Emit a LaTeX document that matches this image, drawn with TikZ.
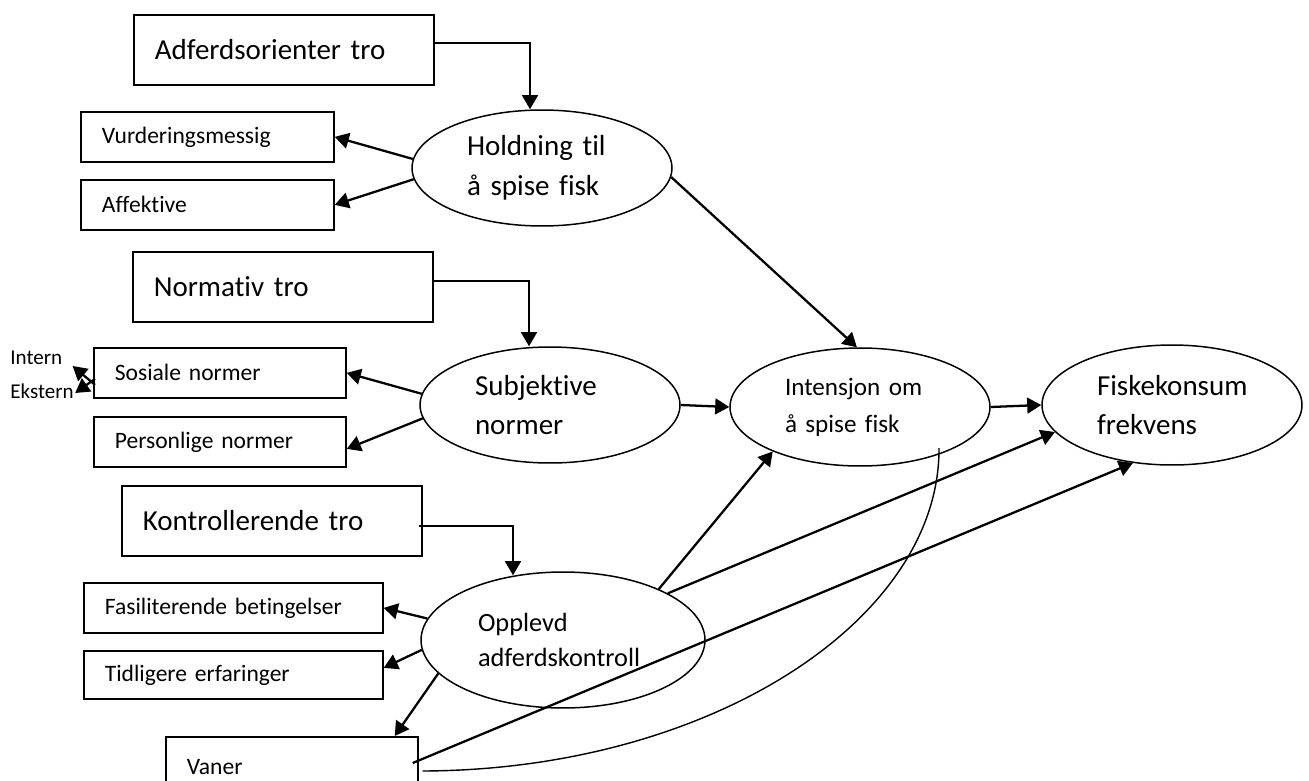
\documentclass[tikz,border=0pt]{standalone}
\usepackage{fontspec}
\setmainfont{Carlito}[Ligatures={NoCommon,NoRequired,NoContextual}]
\usepackage{tikz}
\usetikzlibrary{arrows.meta,calc,shapes.geometric}

\begin{document}
\begin{tikzpicture}[x=0.02cm,y=-0.02cm,
   pil/.style={-{Triangle[length=8pt,width=9pt]},line width=1.3pt},
   stor boks/.style={draw,line width=1pt,anchor=north west,minimum height=1.4cm,
      inner xsep=0.42cm,text width=5.16cm,align=left,font=\fontsize{16.5}{20}\selectfont},
   liten boks/.style={draw,line width=1pt,anchor=north west,minimum height=1cm,
      inner xsep=0.42cm,align=left,font=\fontsize{13.4}{16}\selectfont},
   begrep/.style={ellipse,draw,line width=0.85pt,inner sep=0pt,text width=3cm,align=left,
      minimum width=5.2cm,minimum height=2.32cm,font=\fontsize{16.5}{22.7}\selectfont},
   merknad/.style={anchor=west,inner sep=0pt,font=\fontsize{12}{14}\selectfont}]

  \useasboundingbox (0,0) rectangle (1309,781);
  \clip (0,0) rectangle (1309,781);

  % holdning
  \node[stor boks] (adf) at (133,14) {Adferdsorienter tro};
  \node[liten boks,text width=4.22cm] (vurd) at (80,111) {Vurderingsmessig};
  \node[liten boks,text width=4.22cm] (affe) at (80,179) {Affektive};
  \node[begrep] (hold) at (542,168) {Holdning til\\å spise fisk};

  % normer
  \node[stor boks] (norm) at (132,251) {Normativ tro};
  \node[liten boks,text width=4.2cm] (sos) at (93,347) {Sosiale normer};
  \node[liten boks,text width=4.2cm] (pers) at (93,416) {Personlige normer};
  \node[merknad] (intern) at (10,358) {Intern};
  \node[merknad] (ekstern) at (10,391) {Ekstern};
  \node[begrep] (sub) at (550,405) {Subjektive\\normer};

  \node[begrep,font=\fontsize{14.3}{21}\selectfont,minimum height=2.36cm] (int) at (860,407) {Intensjon om\\å spise fisk};
  \node[begrep,minimum height=2.4cm] (fisk) at (1172,405) {Fiskekonsum\\frekvens};

  % kontroll
  \node[stor boks] (kontr) at (121,485) {Kontrollerende tro};
  \node[begrep,font=\fontsize{15}{20.4}\selectfont,text width=3.4cm,
     minimum width=5.68cm,minimum height=2.72cm] (opp) at (563,640) {Opplevd\\adferdskontroll};
  \node[liten boks,text width=5.14cm] (fasi) at (83,582) {Fasiliterende betingelser};
  \node[liten boks,text width=5.14cm,minimum height=0.96cm] (tidl) at (83,650) {Tidligere erfaringer};
  \node[liten boks,text width=4.2cm,minimum height=1.2cm] (vaner) at (165,736) {Vaner};

  \draw[pil] ($(adf.east)+(0,-7)$) -| ($(hold.north)+(-12,0)$);
  \draw[pil] ($(norm.east)+(0,-6)$) -| ($(sub.north)+(-21,0)$);
  \draw[pil] ($(kontr.east)+(-4,5)$) -| ($(opp.north)+(-50,4)$);

  \foreach \from/\to in {hold.176/vurd.east,hold.185/affe.east,sub.175/sos.east,
     opp.171/fasi.east,sub.east/int.west,int.east/fisk.west,hold.-4/int.93,
     opp.28/int.207,opp.24/fisk.193}
    \draw[pil] (\from) -- (\to);

  \draw[pil] (sub.186) -- ($(pers.east)+(0,7)$);
  \draw[pil] (opp.184) -- ($(tidl.east)+(0,-7)$);
  \draw[pil] (opp.195) -- ($(vaner.north east)+(-24,0)$);
  \draw[pil] ($(sos.west)+(2,12)$) -- ($(intern.east)+(10,8)$);
  \draw[pil] ($(sos.west)+(2,6)$) -- ($(ekstern.east)+(1,2)$);

  % vaner
  \draw[pil] ($(vaner.north east)+(-6,27)$) -- (fisk.236);
  \draw[line width=0.8pt] ($(int.center)+(79,41)$) .. controls (940,620) and (710,770) .. ($(vaner.north east)+(4,35)$);
\end{tikzpicture}
\end{document}
